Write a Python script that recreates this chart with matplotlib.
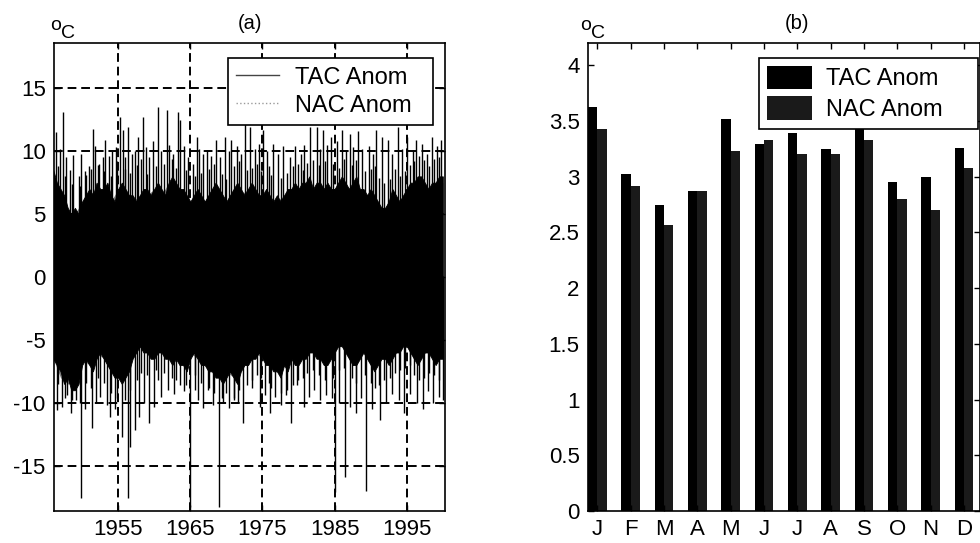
import numpy as np
import matplotlib
matplotlib.use("Agg")
import matplotlib.pyplot as plt

plt.rcParams['font.family'] = ['Liberation Sans', 'DejaVu Sans']
plt.rcParams['axes.unicode_minus'] = False

# ---- panel (a): daily anomalies, read as envelope of the dense band + single spikes
band_start, band_step = 1946.0, 0.5
tac_hi = [8.5, 7.5, 7.0, 6.5, 5.5, 5.0, 5.5, 5.0, 6.0, 6.5,
          7.0, 6.5, 7.5, 7.0, 7.0, 7.5, 6.5, 6.0, 7.0, 7.5,
          7.0, 6.5, 6.5, 6.0, 6.5, 7.0, 7.0, 6.5, 7.0, 7.5,
          7.0, 6.5, 7.5, 8.0, 7.5, 7.0, 7.0, 6.5, 6.0, 6.5,
          7.0, 6.5, 6.0, 6.5, 7.0, 7.5, 7.0, 6.5, 6.0, 6.5,
          7.0, 7.5, 7.0, 6.5, 7.0, 7.5, 7.0, 6.5, 6.5, 7.0,
          6.5, 6.0, 6.5, 6.0, 6.5, 7.0, 7.0, 7.5, 7.0, 7.5,
          7.5, 8.0, 7.0, 7.5, 7.5, 7.0, 7.5, 7.0, 7.0, 7.5,
          8.0, 7.5, 7.0, 7.5, 8.0, 7.0, 7.0, 6.5, 7.0, 6.5,
          6.0, 5.5, 5.5, 6.0, 7.0, 6.5, 6.0, 6.5, 7.0, 7.5,
          7.5, 8.0, 8.0, 7.5, 7.0, 7.5, 7.5, 8.0, 8.0]
tac_lo = [-6.5, -7.0, -7.5, -8.5, -8.0, -9.0, -9.0, -8.5, -7.0, -6.5,
          -7.0, -7.5, -6.5, -6.0, -6.5, -7.0, -7.5, -8.0, -8.0, -8.5,
          -8.0, -7.5, -6.5, -6.0, -5.5, -6.0, -6.0, -6.5, -6.5, -6.0,
          -6.0, -6.5, -6.5, -7.0, -6.5, -7.0, -7.0, -7.5, -6.5, -6.0,
          -6.5, -7.0, -7.0, -7.5, -7.5, -8.0, -8.0, -8.5, -8.0, -7.5,
          -8.0, -8.5, -7.5, -7.0, -7.0, -6.5, -6.5, -6.0, -6.5, -7.0,
          -7.0, -7.5, -7.5, -8.0, -7.0, -7.5, -6.5, -7.0, -7.0, -6.5,
          -6.5, -6.0, -6.0, -6.5, -6.5, -7.0, -7.0, -6.5, -6.0, -5.5,
          -5.5, -6.0, -6.5, -7.0, -7.0, -6.5, -6.0, -6.5, -7.0, -7.5,
          -7.0, -6.5, -6.5, -7.0, -6.5, -6.0, -6.0, -5.5, -5.5, -6.0,
          -6.5, -7.0, -6.5, -6.0, -6.0, -6.5, -7.0, -6.5, -6.5]

nac_years = list(range(1946, 2001))
nac_hi = [7.0, 6.0, 5.0, 5.0, 6.0, 6.5, 7.0, 6.5, 6.0, 7.0, 6.5, 6.0, 6.5, 6.5,
          7.0, 6.5, 7.5, 7.0, 6.5, 6.0, 6.5, 6.0, 7.0, 6.5, 6.0, 7.0, 6.5, 7.0,
          6.5, 6.5, 6.0, 6.0, 6.5, 7.0, 7.0, 7.5, 7.0, 7.0, 7.0, 7.0, 7.5, 7.0,
          7.5, 6.5, 6.5, 5.5, 5.5, 6.5, 6.0, 7.0, 7.5, 7.5, 7.0, 7.5, 7.5]
nac_lo = [-6.5, -8.0, -8.5, -8.5, -6.5, -7.0, -6.0, -6.5, -7.5, -8.0, -7.5, -6.0,
          -5.5, -6.0, -6.0, -6.0, -6.5, -6.5, -7.0, -6.0, -6.5, -7.0, -7.5, -8.0,
          -7.5, -8.0, -7.0, -6.5, -6.0, -6.5, -7.0, -7.5, -7.0, -6.5, -6.5, -6.0,
          -6.0, -6.5, -6.5, -5.5, -5.5, -6.5, -6.5, -6.0, -7.0, -6.5, -6.5, -6.0,
          -5.5, -5.5, -6.5, -6.0, -6.0, -6.5, -6.0]

# large single extremes
up_years = [1946.4, 1946.9, 1947.3, 1947.8, 1948.3, 1948.8, 1949.5, 1949.9, 1950.4, 1950.9,
            1951.5, 1951.8, 1952.4, 1952.9, 1953.2, 1953.7, 1954.2, 1954.7, 1955.2, 1955.6,
            1956.0, 1956.4, 1956.9, 1957.3, 1957.8, 1958.4, 1958.8, 1959.3, 1959.8, 1960.5,
            1960.9, 1961.7, 1962.1, 1962.6, 1963.3, 1963.6, 1964.1, 1964.7, 1965.3, 1965.9,
            1966.2, 1966.8, 1967.3, 1967.9, 1968.6, 1969.1, 1969.8, 1970.3, 1970.7, 1971.4,
            1972.0, 1972.6, 1973.3, 1973.9, 1974.5, 1975.1, 1975.6, 1976.5, 1977.2, 1977.9,
            1978.8, 1979.5, 1980.3, 1980.8, 1981.6, 1982.5, 1983.0, 1983.4, 1984.0, 1984.5,
            1985.3, 1986.0, 1986.6, 1987.1, 1987.6, 1988.3, 1988.8, 1989.7, 1990.3, 1990.8,
            1991.5, 1992.4, 1993.0, 1993.8, 1994.4, 1995.0, 1995.8, 1996.3, 1997.1, 1997.8,
            1998.5, 1999.2, 1999.8]
up_vals = [11.5, 10.2, 13.1, 9.5, 8.5, 9.7, 8.0, 9.8, 8.4, 8.8,
           11.8, 10.4, 9.0, 9.5, 10.9, 9.6, 10.0, 10.3, 12.7, 11.7,
           9.5, 11.9, 9.8, 10.0, 11.1, 12.7, 10.3, 9.5, 10.8, 13.5,
           10.0, 13.3, 10.5, 9.8, 13.1, 12.5, 10.4, 9.5, 9.0, 11.1,
           10.2, 9.8, 10.1, 9.6, 10.9, 9.5, 11.1, 10.0, 10.9, 10.4,
           9.8, 12.2, 11.9, 10.2, 10.6, 11.7, 10.0, 10.6, 9.8, 10.4,
           9.5, 10.4, 9.8, 10.5, 11.9, 11.9, 10.2, 11.7, 10.5, 11.1,
           10.8, 11.7, 10.0, 11.4, 10.3, 11.6, 10.2, 10.4, 9.8, 11.7,
           11.1, 10.9, 9.8, 11.9, 10.2, 11.1, 10.1, 10.9, 10.6, 9.8,
           11.1, 10.4, 10.9]

dn_years = [1946.5, 1947.2, 1947.9, 1948.5, 1949.2, 1949.9, 1950.4, 1951.3, 1951.9, 1952.5,
            1953.4, 1953.9, 1954.6, 1955.5, 1956.3, 1956.7, 1957.3, 1957.9, 1958.6, 1959.2,
            1959.9, 1960.5, 1961.0, 1961.9, 1962.7, 1963.5, 1964.1, 1964.9, 1965.6, 1966.1,
            1966.8, 1967.4, 1968.2, 1969.0, 1969.5, 1970.3, 1971.0, 1971.6, 1972.3, 1973.5,
            1974.6, 1975.4, 1976.0, 1976.8, 1977.6, 1978.2, 1979.0, 1979.8, 1980.8, 1981.5,
            1982.2, 1983.0, 1983.8, 1984.6, 1985.1, 1985.6, 1986.4, 1987.1, 1987.9, 1988.6,
            1989.3, 1990.2, 1991.3, 1992.1, 1992.9, 1993.9, 1994.6, 1995.5, 1996.4, 1997.2,
            1997.9, 1998.6, 1999.4, 2000.0]
dn_vals = [-10.6, -10.3, -9.4, -10.8, -9.8, -17.6, -10.5, -12.0, -10.0, -9.5,
           -10.2, -11.1, -10.5, -12.7, -17.6, -13.5, -12.2, -11.1, -10.0, -11.6,
           -10.3, -8.2, -9.5, -9.0, -9.3, -8.6, -9.1, -18.3, -9.0, -9.8,
           -10.4, -9.0, -10.2, -18.3, -10.0, -10.4, -9.8, -10.0, -11.6, -8.8,
           -10.3, -9.4, -10.8, -9.5, -10.2, -9.4, -11.6, -8.6, -10.3, -9.5,
           -9.0, -9.8, -9.4, -9.6, -17.1, -10.0, -15.9, -10.3, -10.8, -9.6,
           -17.0, -10.5, -11.4, -10.0, -9.3, -9.8, -10.8, -9.3, -10.0, -10.5,
           -9.1, -10.0, -9.5, -9.8]

# smaller excursions just outside the dense band
mid_years = [1946.7, 1947.6, 1948.6, 1949.7, 1950.6, 1951.2, 1952.2, 1953.0, 1954.0, 1954.9,
             1955.9, 1956.6, 1957.6, 1958.2, 1959.0, 1960.2, 1961.3, 1962.4, 1963.0, 1964.4,
             1965.6, 1966.5, 1967.6, 1968.3, 1969.4, 1970.0, 1971.1, 1971.8, 1972.8, 1973.6,
             1974.2, 1974.8, 1975.9, 1976.2, 1977.5, 1978.4, 1979.2, 1979.9, 1980.6, 1981.2,
             1982.0, 1982.8, 1983.7, 1984.8, 1985.6, 1986.3, 1987.4, 1988.0, 1989.2, 1990.0,
             1990.6, 1991.2, 1991.9, 1992.7, 1993.4, 1994.1, 1994.7, 1995.4, 1996.0, 1996.7,
             1997.4, 1998.1, 1998.8, 1999.5]
mid_up = [8.8, 8.0, 7.4, 7.2, 8.1, 8.6, 8.9, 8.4, 8.0, 9.2,
          8.6, 8.3, 8.9, 9.4, 8.2, 8.8, 9.0, 9.4, 8.7, 8.5,
          8.0, 8.3, 8.6, 9.0, 8.2, 7.8, 8.8, 9.2, 8.5, 8.7,
          9.0, 8.4, 8.8, 8.1, 7.9, 8.3, 8.8, 9.0, 8.5, 9.1,
          9.3, 8.9, 9.2, 9.0, 8.7, 9.4, 8.9, 9.3, 8.4, 8.6,
          8.8, 7.9, 7.5, 7.8, 8.6, 8.0, 8.4, 8.9, 9.2, 9.6,
          9.3, 8.8, 9.4, 9.5]
mid_dn = [-8.5, -9.6, -9.8, -10.0, -8.4, -8.8, -8.0, -8.4, -9.2, -9.6,
          -9.8, -9.0, -8.2, -7.6, -7.8, -7.4, -7.6, -8.0, -8.2, -8.6,
          -7.8, -8.4, -8.8, -9.2, -9.6, -9.2, -9.6, -9.0, -8.6, -8.2,
          -7.8, -8.0, -8.4, -8.8, -9.2, -9.0, -8.6, -8.2, -8.0, -7.6,
          -7.4, -7.8, -8.2, -8.0, -7.4, -7.2, -8.0, -8.4, -7.8, -8.4,
          -8.8, -8.6, -8.2, -8.0, -7.6, -7.4, -7.2, -7.0, -7.8, -8.2,
          -8.0, -7.6, -7.8, -8.2]

year_ticks = [1955, 1965, 1975, 1985, 1995]

# ---- panel (b): monthly values
months = ['J', 'F', 'M', 'A', 'M', 'J', 'J', 'A', 'S', 'O', 'N', 'D']
tac_month = [3.63, 3.02, 2.75, 2.87, 3.52, 3.29, 3.39, 3.25, 3.50, 2.95, 3.00, 3.26]
nac_month = [3.43, 2.92, 2.57, 2.87, 3.23, 3.33, 3.20, 3.20, 3.33, 2.80, 2.70, 3.08]

W, H = 980, 543
fig = plt.figure(figsize=(W / 100, H / 100), dpi=100)

def px_axes(l, t, r, b):
    return fig.add_axes([l / W, 1 - b / H, (r - l) / W, (b - t) / H])

axa = px_axes(54, 43, 445, 511)
axb = px_axes(588, 43, 980, 511)

for ax in (axa, axb):
    for s in ax.spines.values():
        s.set_linewidth(1.2)
    ax.tick_params(direction='in', top=True, right=True, length=4, width=1,
                   labelsize=16, pad=6)

# (a)
t_band = band_start + band_step * np.arange(len(tac_hi))
axa.fill_between(nac_years, nac_lo, nac_hi, color='#808080', lw=0)
axa.fill_between(t_band, tac_lo, tac_hi, color='black', lw=0.6)
axa.vlines(mid_years, mid_dn, mid_up, color='black', lw=1.0)
axa.vlines(up_years, 0, up_vals, color='black', lw=1.0)
axa.vlines(dn_years, 0, dn_vals, color='black', lw=1.0)
axa.plot([], [], color='#444444', lw=1, label='TAC Anom  ')
axa.plot([], [], color='#9a9a9a', lw=1, ls=':', label='NAC Anom  ')
axa.set_xlim(1946.1, 2000.3)
axa.set_ylim(-18.6, 18.6)
axa.set_xticks(year_ticks)
axa.set_yticks([-15, -10, -5, 0, 5, 10, 15])
axa.grid(True, color='black', ls=(0, (4.5, 2.5)), lw=1.4)
axa.set_axisbelow(True)
axa.set_title('(a)', fontsize=14.5, pad=10)
lga = axa.legend(loc='upper right', bbox_to_anchor=(0.970, 0.967), borderaxespad=0,
                 fancybox=False, edgecolor='black', framealpha=1, fontsize=17,
                 handlelength=1.8, handletextpad=0.7, labelspacing=0.25,
                 borderpad=0.35)
lga.get_frame().set_linewidth(1.2)

# (b)
x = np.arange(1, 13)
w = 0.28
axb.bar(x - w / 2, tac_month, w, color='black', label='TAC Anom    ')
axb.bar(x + w / 2, nac_month, w, color='#1a1a1a', label='NAC Anom    ')
axb.set_xlim(0.72, 12.48)
axb.set_ylim(0, 4.2)
axb.set_xticks(x)
axb.set_xticklabels(months)
axb.set_yticks([0, 0.5, 1, 1.5, 2, 2.5, 3, 3.5, 4])
axb.set_yticklabels(['0', '0.5', '1', '1.5', '2', '2.5', '3', '3.5', '4'])
axb.set_title('(b)', fontsize=14.5, pad=10, x=0.534)
lgb = axb.legend(loc='upper right', bbox_to_anchor=(0.994, 0.969), borderaxespad=0,
                 fancybox=False, edgecolor='black', framealpha=1, fontsize=17,
                 handlelength=1.9, handleheight=1.15, handletextpad=0.6,
                 labelspacing=0.25, borderpad=0.35)
lgb.get_frame().set_linewidth(1.2)

# degree-C unit labels
for xo, xc in ((50, 61), (580, 591)):
    fig.text(xo / W, 1 - 30 / H, 'o', fontsize=14, va='baseline', ha='left')
    fig.text(xc / W, 1 - 38 / H, 'C', fontsize=14, va='baseline', ha='left')

fig.savefig('out.png', dpi=100)
